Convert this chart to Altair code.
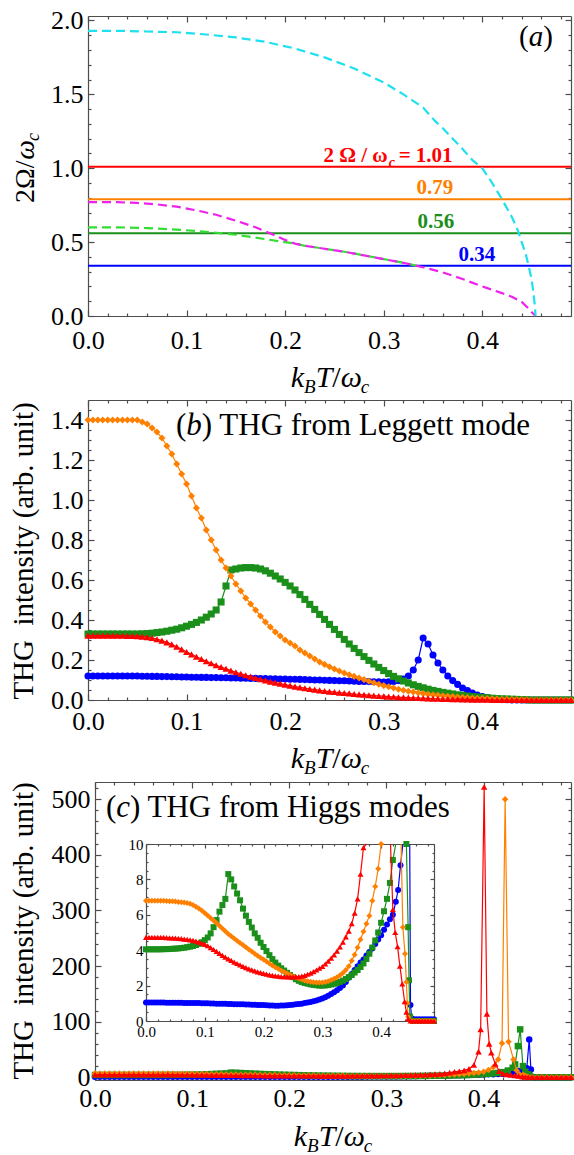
import altair as alt
import pandas as pd

W, H = 574, 1155
FONT = "Liberation Serif"
FRAME = "#4d4d4d"
BLUE, GREEN, ORANGE, RED = "#0000ff", "#1a8f1a", "#ff8000", "#ff0000"
CYAN, MAGENTA, LIME = "#1fe0ee", "#ee22ee", "#33dd33"

# ---------------- panel (a) data ----------------
A_LEVELS = [1.01, 0.79, 0.56, 0.34]
A_COLORS = [RED, ORANGE, GREEN, BLUE]
A_TEXT = ["0.79", "0.56", "0.34"]
A_TEXT_T = [0.352, 0.353, 0.3945]
A_TEXT_V = [0.79, 0.56, 0.34]
A_TEXT_C = [ORANGE, GREEN, BLUE]

CYAN_T = [0.0, 0.03, 0.06, 0.09, 0.12, 0.15, 0.18, 0.21, 0.24, 0.27,
          0.30, 0.32, 0.34, 0.352, 0.36, 0.37, 0.38, 0.39, 0.40, 0.41,
          0.42, 0.43, 0.436, 0.44, 0.444, 0.447, 0.45, 0.452, 0.4535, 0.454]
CYAN_V = [1.93, 1.93, 1.925, 1.92, 1.905, 1.885, 1.855, 1.81, 1.75, 1.675,
          1.58, 1.50, 1.41, 1.32, 1.27, 1.20, 1.13, 1.055, 1.00, 0.90,
          0.79, 0.67, 0.58, 0.50, 0.42, 0.34, 0.25, 0.15, 0.06, 0.0]
MAG_T = [0.0, 0.03, 0.05, 0.07, 0.09, 0.11, 0.13, 0.15, 0.17, 0.19,
         0.20, 0.21, 0.22, 0.24, 0.26, 0.28, 0.30, 0.32, 0.34, 0.36,
         0.38, 0.40, 0.42, 0.43, 0.44, 0.447, 0.451, 0.454]
MAG_V = [0.77, 0.77, 0.765, 0.755, 0.74, 0.715, 0.685, 0.645, 0.60, 0.545,
         0.515, 0.49, 0.475, 0.455, 0.435, 0.41, 0.385, 0.36, 0.33, 0.295,
         0.25, 0.20, 0.155, 0.13, 0.095, 0.05, 0.02, 0.0]
LIME_T = [0.0, 0.03, 0.06, 0.09, 0.12, 0.15, 0.18, 0.21, 0.22, 0.24, 0.26, 0.28, 0.30, 0.32, 0.34]
LIME_V = [0.60, 0.60, 0.595, 0.585, 0.57, 0.55, 0.52, 0.49, 0.475, 0.455, 0.435, 0.41, 0.385, 0.36, 0.33]

# ---------------- panel (b) data ----------------
T_B = [0.0, 0.005, 0.01, 0.015, 0.02, 0.025, 0.03, 0.035, 0.04, 0.045,
       0.05, 0.055, 0.06, 0.065, 0.07, 0.075, 0.08, 0.085, 0.09, 0.095,
       0.1, 0.105, 0.11, 0.115, 0.12, 0.125, 0.13, 0.135, 0.14, 0.145,
       0.15, 0.155, 0.16, 0.165, 0.17, 0.175, 0.18, 0.185, 0.19, 0.195,
       0.2, 0.205, 0.21, 0.215, 0.22, 0.225, 0.23, 0.235, 0.24, 0.245,
       0.25, 0.255, 0.26, 0.265, 0.27, 0.275, 0.28, 0.285, 0.29, 0.295,
       0.3, 0.305, 0.31, 0.315, 0.32, 0.325, 0.33, 0.335, 0.34, 0.345,
       0.35, 0.355, 0.36, 0.365, 0.37, 0.375, 0.38, 0.385, 0.39, 0.395,
       0.4, 0.405, 0.41, 0.415, 0.42, 0.425, 0.43, 0.435, 0.44, 0.445,
       0.45, 0.455, 0.46, 0.465, 0.47, 0.475, 0.48, 0.485, 0.49]
B_ORANGE = [1.40, 1.40, 1.40, 1.40, 1.40, 1.40, 1.40, 1.40, 1.40, 1.40,
            1.40, 1.39, 1.38, 1.36, 1.34, 1.31, 1.27, 1.23, 1.18, 1.13,
            1.08, 1.02, 0.96, 0.91, 0.85, 0.80, 0.75, 0.70, 0.66, 0.62,
            0.58, 0.545, 0.51, 0.48, 0.45, 0.42, 0.39, 0.365, 0.34, 0.32,
            0.30, 0.285, 0.27, 0.25, 0.235, 0.22, 0.205, 0.19, 0.178, 0.166,
            0.155, 0.145, 0.135, 0.126, 0.118, 0.11, 0.102, 0.094, 0.086, 0.079,
            0.072, 0.066, 0.06, 0.054, 0.049, 0.044, 0.04, 0.036, 0.032, 0.029,
            0.026, 0.024, 0.021, 0.019, 0.017, 0.015, 0.013, 0.012, 0.010, 0.009,
            0.008, 0.007, 0.006, 0.005, 0.004, 0.003, 0.003, 0.002, 0.002, 0.001,
            0, 0, 0, 0, 0, 0, 0, 0, 0]
B_GREEN = [0.33, 0.33, 0.33, 0.33, 0.33, 0.33, 0.33, 0.33, 0.33, 0.33,
           0.33, 0.331, 0.332, 0.334, 0.337, 0.34, 0.344, 0.349, 0.354, 0.361,
           0.369, 0.378, 0.388, 0.40, 0.414, 0.43, 0.45, 0.49, 0.57, 0.65,
           0.655, 0.66, 0.662, 0.662, 0.66, 0.655, 0.646, 0.634, 0.62, 0.605,
           0.588, 0.57, 0.55, 0.527, 0.503, 0.478, 0.453, 0.428, 0.403, 0.378,
           0.353, 0.328, 0.303, 0.28, 0.258, 0.237, 0.217, 0.198, 0.18, 0.163,
           0.147, 0.132, 0.118, 0.106, 0.095, 0.085, 0.076, 0.068, 0.061, 0.054,
           0.048, 0.043, 0.038, 0.034, 0.03, 0.026, 0.023, 0.02, 0.017, 0.015,
           0.013, 0.011, 0.009, 0.007, 0.006, 0.005, 0.004, 0.003, 0.002, 0.001,
           0, 0, 0, 0, 0, 0, 0, 0, 0]
B_BLUE = [0.12, 0.12, 0.12, 0.12, 0.12, 0.12, 0.12, 0.12, 0.12, 0.12,
          0.12, 0.119, 0.119, 0.118, 0.118, 0.117, 0.117, 0.116, 0.116, 0.115,
          0.115, 0.114, 0.114, 0.113, 0.113, 0.112, 0.112, 0.111, 0.111, 0.11,
          0.11, 0.109, 0.109, 0.108, 0.108, 0.107, 0.107, 0.106, 0.106, 0.105,
          0.105, 0.104, 0.104, 0.103, 0.102, 0.101, 0.1, 0.1, 0.099, 0.098,
          0.097, 0.096, 0.096, 0.095, 0.094, 0.093, 0.093, 0.092, 0.091, 0.091,
          0.09, 0.091, 0.093, 0.097, 0.105, 0.12, 0.15, 0.2, 0.31, 0.28,
          0.225, 0.185, 0.15, 0.12, 0.097, 0.078, 0.06, 0.047, 0.035, 0.025,
          0.017, 0.011, 0.007, 0.004, 0.002, 0.001, 0, 0, 0, 0,
          0, 0, 0, 0, 0, 0, 0, 0, 0]
B_RED = [0.322, 0.322, 0.322, 0.322, 0.322, 0.322, 0.321, 0.321, 0.320, 0.320,
         0.319, 0.317, 0.314, 0.31, 0.304, 0.297, 0.288, 0.278, 0.266, 0.253,
         0.24, 0.228, 0.216, 0.205, 0.194, 0.184, 0.174, 0.165, 0.156, 0.147,
         0.139, 0.131, 0.124, 0.117, 0.11, 0.104, 0.098, 0.092, 0.087, 0.082,
         0.077, 0.072, 0.067, 0.063, 0.059, 0.055, 0.052, 0.048, 0.045, 0.042,
         0.04, 0.037, 0.035, 0.033, 0.03, 0.028, 0.026, 0.024, 0.022, 0.02,
         0.019, 0.017, 0.016, 0.014, 0.013, 0.012, 0.011, 0.01, 0.009, 0.008,
         0.007, 0.006, 0.005, 0.005, 0.004, 0.004, 0.003, 0.003, 0.002, 0.002,
         0.002, 0.001, 0, 0, 0, 0, 0, 0, 0, 0,
         0, 0, 0, 0, 0, 0, 0, 0, 0]

# ---------------- panel (c) data ----------------
T_C = T_B[:74]
C_RED = [4.73, 4.73, 4.73, 4.73, 4.72, 4.72, 4.72, 4.71, 4.70, 4.69,
         4.68, 4.67, 4.65, 4.63, 4.61, 4.58, 4.55, 4.51, 4.46, 4.40,
         4.33, 4.25, 4.15, 4.04, 3.93, 3.82, 3.71, 3.61, 3.51, 3.42,
         3.33, 3.25, 3.17, 3.09, 3.02, 2.95, 2.89, 2.83, 2.78, 2.73,
         2.69, 2.65, 2.61, 2.58, 2.55, 2.53, 2.51, 2.50, 2.49, 2.49,
         2.49, 2.50, 2.51, 2.54, 2.58, 2.64, 2.71, 2.79, 2.88, 2.98,
         3.08, 3.22, 3.38, 3.55, 3.74, 3.95, 4.18, 4.45, 4.75, 5.08,
         5.5, 6.1, 6.9, 8.3]
C_RED_TT = [0.37, 0.375, 0.38, 0.385, 0.39, 0.3948, 0.397, 0.4006, 0.4034, 0.4058,
            0.408, 0.412, 0.416, 0.42, 0.424, 0.428, 0.432, 0.436, 0.44, 0.443,
            0.446, 0.45, 0.455, 0.46, 0.465, 0.47, 0.475, 0.48, 0.485, 0.49]
C_RED_TV = [9.8, 10.8, 12.3, 15, 22, 46, 86, 522, 114, 60,
            44, 24, 11, 6.3, 5.0, 4.2, 3.1, 2.1, 1.1, 0.5,
            0.12, 0, 0, 0, 0, 0, 0, 0, 0, 0]
C_ORANGE = [6.80, 6.80, 6.80, 6.80, 6.80, 6.79, 6.79, 6.78, 6.77, 6.76,
            6.75, 6.73, 6.71, 6.69, 6.66, 6.62, 6.55, 6.46, 6.36, 6.24,
            6.10, 5.96, 5.82, 5.68, 5.53, 5.38, 5.23, 5.07, 4.92, 4.79,
            4.66, 4.53, 4.41, 4.29, 4.17, 4.04, 3.92, 3.80, 3.69, 3.58,
            3.47, 3.36, 3.25, 3.14, 3.04, 2.95, 2.86, 2.77, 2.69, 2.61,
            2.53, 2.46, 2.40, 2.34, 2.29, 2.25, 2.22, 2.19, 2.18, 2.17,
            2.18, 2.21, 2.25, 2.31, 2.38, 2.47, 2.58, 2.71, 2.88, 3.1,
            3.4, 3.75, 4.15, 4.6]
C_ORANGE_TT = [0.37, 0.375, 0.38, 0.385, 0.39, 0.395, 0.4, 0.405, 0.41, 0.415,
               0.419, 0.4222, 0.4257, 0.4308, 0.434, 0.437, 0.4407, 0.443, 0.4446, 0.446,
               0.45, 0.455, 0.46, 0.465, 0.47, 0.475, 0.48, 0.485, 0.49]
C_ORANGE_TV = [5.05, 5.5, 5.95, 6.8, 7.6, 8.6, 10.0, 13, 18, 32,
               61, 500, 64, 32, 12, 5.3, 3.8, 2.2, 1.0, 0.24,
               0, 0, 0, 0, 0, 0, 0, 0, 0]
C_GREEN = [4.05, 4.05, 4.05, 4.05, 4.05, 4.05, 4.06, 4.06, 4.07, 4.08,
           4.09, 4.10, 4.12, 4.14, 4.17, 4.20, 4.24, 4.29, 4.36, 4.45,
           4.57, 4.72, 4.95, 5.3, 5.7, 6.18, 6.55, 6.9, 8.3, 8.0,
           7.6, 7.2, 6.82, 6.35, 5.95, 5.6, 5.28, 4.95, 4.7, 4.42,
           4.18, 3.95, 3.72, 3.5, 3.3, 3.13, 2.98, 2.85, 2.72, 2.6,
           2.48, 2.36, 2.27, 2.2, 2.15, 2.11, 2.07, 2.04, 2.02, 2.0,
           2.0, 2.01, 2.03, 2.06, 2.1, 2.15, 2.21, 2.28, 2.37, 2.48,
           2.6, 2.74, 2.88, 3.05]
C_GREEN_TT = [0.37, 0.375, 0.38, 0.385, 0.39, 0.395, 0.4, 0.405, 0.41, 0.415,
              0.42, 0.425, 0.43, 0.4325, 0.4353, 0.4377, 0.4405, 0.443, 0.446, 0.4475,
              0.449, 0.455, 0.46, 0.465, 0.47, 0.475, 0.48, 0.485, 0.49]
C_GREEN_TV = [3.25, 3.5, 3.8, 4.15, 4.55, 5.0, 5.55, 6.2, 6.9, 7.8,
              9.1, 12, 17, 23, 56, 86, 20, 10, 5.3, 2.3,
              0.25, 0, 0, 0, 0, 0, 0, 0, 0]
C_BLUE = [1.04, 1.04, 1.04, 1.04, 1.04, 1.04, 1.04, 1.03, 1.03, 1.03,
          1.03, 1.03, 1.03, 1.02, 1.02, 1.02, 1.01, 1.01, 1.01, 1.0,
          1.0, 1.0, 0.99, 0.99, 0.98, 0.98, 0.97, 0.97, 0.96, 0.96,
          0.95, 0.95, 0.94, 0.94, 0.93, 0.93, 0.92, 0.92, 0.91, 0.90,
          0.90, 0.89, 0.88, 0.87, 0.86, 0.86, 0.87, 0.88, 0.89, 0.90,
          0.92, 0.94, 0.96, 0.98, 1.01, 1.04, 1.08, 1.12, 1.16, 1.21,
          1.27, 1.34, 1.42, 1.52, 1.63, 1.74, 1.86, 2.0, 2.2, 2.45,
          2.65, 2.88, 3.1, 3.3]
C_BLUE_TT = [0.37, 0.375, 0.38, 0.385, 0.39, 0.395, 0.4, 0.405, 0.41, 0.415,
             0.42, 0.425, 0.429, 0.433, 0.437, 0.441, 0.4445, 0.447, 0.4487, 0.45,
             0.452, 0.455, 0.46, 0.465, 0.47, 0.475, 0.48, 0.485, 0.49]
C_BLUE_TV = [3.48, 3.7, 3.9, 4.1, 4.35, 4.6, 4.85, 5.15, 5.45, 5.75,
             6.0, 6.74, 7.4, 8.8, 11, 15, 16, 68, 14, 0.9,
             0.15, 0.1, 0.1, 0.1, 0.1, 0.1, 0.1, 0.1, 0.1]

# tick positions
X_MAJ = [0.0, 0.1, 0.2, 0.3, 0.4]
X_MIN = [0.02, 0.04, 0.06, 0.08, 0.12, 0.14, 0.16, 0.18, 0.22, 0.24, 0.26, 0.28,
         0.32, 0.34, 0.36, 0.38, 0.42, 0.44, 0.46, 0.48]
A_Y_MAJ = [0.0, 0.5, 1.0, 1.5, 2.0]
A_Y_MIN = [0.1, 0.2, 0.3, 0.4, 0.6, 0.7, 0.8, 0.9, 1.1, 1.2, 1.3, 1.4, 1.6, 1.7, 1.8, 1.9]
B_Y_MAJ = [0.0, 0.2, 0.4, 0.6, 0.8, 1.0, 1.2, 1.4]
B_Y_MIN = [0.05, 0.1, 0.15, 0.25, 0.3, 0.35, 0.45, 0.5, 0.55, 0.65, 0.7, 0.75,
           0.85, 0.9, 0.95, 1.05, 1.1, 1.15, 1.25, 1.3, 1.35, 1.45]
C_Y_MAJ = [0, 100, 200, 300, 400, 500]
C_Y_MIN = [20, 40, 60, 80, 120, 140, 160, 180, 220, 240, 260, 280, 320, 340, 360, 380,
           420, 440, 460, 480, 520]
I_Y_MAJ = [0, 2, 4, 6, 8, 10]
I_Y_MIN = [0.5, 1, 1.5, 2.5, 3, 3.5, 4.5, 5, 5.5, 6.5, 7, 7.5, 8.5, 9, 9.5]

ONE = pd.DataFrame({"a": [0]})


def sc(dom, rng, clamp=False):
    return alt.Scale(domain=dom, range=rng, nice=False, zero=False, clamp=clamp)


def frame_layers(xdom, ydom, box, ymaj, ymin, yfmt, fsize, xpad, ypad, big, small, clamp=False):
    xl, xr, yt, yb = box
    xs = sc(xdom, [xl, xr])
    ys = sc(ydom, [yb, yt], clamp)
    df = pd.DataFrame({"x": [xdom[0]], "y": [ydom[0]]})
    common = dict(grid=False, title=None, domainColor=FRAME, tickColor=FRAME,
                  domainWidth=1.2, tickWidth=1.2, labels=False)

    def lay(ax, ay):
        return alt.Chart(df).mark_point(opacity=0).encode(
            x=alt.X("x:Q", scale=xs, axis=ax), y=alt.Y("y:Q", scale=ys, axis=ay))

    labstyle = dict(labels=True, ticks=True, tickSize=0, domain=False, grid=False, title=None,
                    labelFont=FONT, labelFontSize=fsize, labelColor="black",
                    labelFlush=False, labelOverlap=False)
    lab = lay(alt.Axis(orient="bottom", offset=yb - H, values=X_MAJ, format=".1f",
                       labelPadding=xpad, **labstyle),
              alt.Axis(orient="left", offset=-xl, values=ymaj, format=yfmt,
                       labelPadding=ypad, **labstyle))
    maj_lo = lay(alt.Axis(orient="top", offset=-yb, values=X_MAJ, tickSize=big, domain=True, **common),
                 alt.Axis(orient="right", offset=xl - W, values=ymaj, tickSize=big, domain=True, **common))
    min_lo = lay(alt.Axis(orient="top", offset=-yb, values=X_MIN, tickSize=small, domain=False, **common),
                 alt.Axis(orient="right", offset=xl - W, values=ymin, tickSize=small, domain=False, **common))
    maj_hi = lay(alt.Axis(orient="bottom", offset=yt - H, values=X_MAJ, tickSize=big, domain=True, **common),
                 alt.Axis(orient="left", offset=-xr, values=ymaj, tickSize=big, domain=True, **common))
    min_hi = lay(alt.Axis(orient="bottom", offset=yt - H, values=X_MIN, tickSize=small, domain=False, **common),
                 alt.Axis(orient="left", offset=-xr, values=ymin, tickSize=small, domain=False, **common))
    return [lab, maj_lo, min_lo, maj_hi, min_hi], xs, ys


def series(ts, vs, xs, ys, color, shape, size, sw=1.2):
    df = pd.DataFrame({"T": ts, "V": vs})
    enc = dict(x=alt.X("T:Q", scale=xs, axis=None), y=alt.Y("V:Q", scale=ys, axis=None))
    line = alt.Chart(df).mark_line(color=color, strokeWidth=sw).encode(**enc)
    pts = alt.Chart(df).mark_point(shape=shape, filled=True, color=color, size=size,
                                   opacity=1, strokeWidth=0).encode(**enc)
    return [line, pts]


def clipped_series(ts, vs, xs, ys, color, shape, size, top, sw=1.2):
    rows, seg, i, n = [], 0, 0, len(vs)
    while i < n:
        if vs[i] <= top:
            j = i
            while j + 1 < n and vs[j + 1] <= top:
                j += 1
            for k in range(max(i - 1, 0), min(j + 1, n - 1) + 1):
                rows.append((ts[k], vs[k], seg))
            seg += 1
            i = j + 1
        else:
            i += 1
    ldf = pd.DataFrame(rows, columns=["T", "V", "seg"])
    pdf = pd.DataFrame({"T": ts, "V": vs})
    pdf = pdf[pdf["V"] <= top]
    enc = dict(x=alt.X("T:Q", scale=xs, axis=None), y=alt.Y("V:Q", scale=ys, axis=None))
    line = alt.Chart(ldf).mark_line(color=color, strokeWidth=sw).encode(detail="seg:N", **enc)
    pts = alt.Chart(pdf).mark_point(shape=shape, filled=True, color=color, size=size,
                                    opacity=1, strokeWidth=0).encode(**enc)
    return [line, pts]


def txt(s, x, y, size, style="normal", weight="normal", color="black", align="left", angle=0):
    return alt.Chart(ONE).mark_text(text=s, font=FONT, fontSize=size, fontStyle=style,
                                    fontWeight=weight, color=color, align=align,
                                    baseline="alphabetic", angle=angle).encode(
        x=alt.value(x), y=alt.value(y))


# ---------------- panel (a) ----------------
a_axes, xa, ya = frame_layers([0, 0.49], [0, 2.03], (88, 571, 16, 316), A_Y_MAJ, A_Y_MIN, ".1f",
                              26, 11, 5, 6, 3)
lev_df = pd.DataFrame({"v": A_LEVELS, "c": A_COLORS, "x0": [0.0] * 4, "x1": [0.49] * 4})
rules = alt.Chart(lev_df).mark_rule(strokeWidth=2.2).encode(
    x=alt.X("x0:Q", scale=xa, axis=None), x2="x1:Q",
    y=alt.Y("v:Q", scale=ya, axis=None), color=alt.Color("c:N", scale=None))


def dashed(ts, vs, color):
    df = pd.DataFrame({"T": ts, "V": vs})
    return alt.Chart(df).mark_line(color=color, strokeWidth=2.2, strokeDash=[9, 5]).encode(
        x=alt.X("T:Q", scale=xa, axis=None), y=alt.Y("V:Q", scale=ya, axis=None))


lab_df = pd.DataFrame({"T": A_TEXT_T, "V": A_TEXT_V, "s": A_TEXT, "c": A_TEXT_C})
level_labels = alt.Chart(lab_df).mark_text(font=FONT, fontSize=21, fontWeight="bold",
                                          align="center", baseline="alphabetic", dy=-5).encode(
    x=alt.X("T:Q", scale=xa, axis=None), y=alt.Y("V:Q", scale=ya, axis=None),
    text="s:N", color=alt.Color("c:N", scale=None))
red_df = pd.DataFrame({"T": [0.304], "V": [1.01]})


def red_piece(s, align, dx, dy, size, style="normal"):
    return alt.Chart(red_df).mark_text(text=s, font=FONT, fontSize=size, fontWeight="bold",
                                       fontStyle=style, color=RED, align=align,
                                       baseline="alphabetic", dx=dx, dy=dy).encode(
        x=alt.X("T:Q", scale=xa, axis=None), y=alt.Y("V:Q", scale=ya, axis=None))


red_label = [red_piece("2 \u03a9 / \u03c9", "right", 0, -5, 21),
             red_piece("c", "left", 1, 0, 14, "italic"),
             red_piece("= 1.01", "left", 11, -5, 21)]

panel_a = alt.layer(*a_axes, rules, dashed(LIME_T, LIME_V, LIME), dashed(MAG_T, MAG_V, MAGENTA),
                    dashed(CYAN_T, CYAN_V, CYAN), level_labels, *red_label
                    ).resolve_axis(x="independent", y="independent")

# ---------------- panel (b) ----------------
b_axes, xb, yb_ = frame_layers([0, 0.49], [0, 1.5], (88, 571, 400, 700), B_Y_MAJ, B_Y_MIN, ".1f",
                               26, 8, 5, 6, 3)
b_layers = []
for vals, col, shp in [(B_BLUE, BLUE, "circle"), (B_GREEN, GREEN, "square"),
                       (B_ORANGE, ORANGE, "diamond"), (B_RED, RED, "triangle-up")]:
    b_layers += series(T_B, vals, xb, yb_, col, shp, 50)
panel_b = alt.layer(*b_axes, *b_layers).resolve_axis(x="independent", y="independent")

# ---------------- panel (c) ----------------
c_axes, xc, yc = frame_layers([0, 0.49], [-5, 531], (95, 571, 782, 1080), C_Y_MAJ, C_Y_MIN, "d",
                              26, 5, 5, 6, 3)
C_SERIES = [(C_BLUE, C_BLUE_TT, C_BLUE_TV, BLUE, "circle"),
            (C_GREEN, C_GREEN_TT, C_GREEN_TV, GREEN, "square"),
            (C_ORANGE, C_ORANGE_TT, C_ORANGE_TV, ORANGE, "diamond"),
            (C_RED, C_RED_TT, C_RED_TV, RED, "triangle-up")]
c_layers = []
for base, tt, tv, col, shp in C_SERIES:
    c_layers += series(T_C + tt, base + tv, xc, yc, col, shp, 42)
panel_c = alt.layer(*c_axes, *c_layers).resolve_axis(x="independent", y="independent")

# ---------------- inset ----------------
i_axes, xi, yi = frame_layers([0, 0.49], [0, 10], (146, 434, 844, 1021), I_Y_MAJ, I_Y_MIN, "d",
                              15, 3, 3, 4, 2, clamp=True)
i_layers = []
for base, tt, tv, col, shp in C_SERIES:
    i_layers += clipped_series(T_C + tt, base + tv, xi, yi, col, shp, 36, 10)
panel_i = alt.layer(*i_axes, *i_layers).resolve_axis(x="independent", y="independent")

# ---------------- titles / labels ----------------
texts = []
# (a)
texts += [txt("(", 519, 46, 29), txt("a", 528.7, 46, 29, style="italic"), txt(")", 543.2, 46, 29)]
# (b) and (c) titles
texts += [txt("(", 176, 435, 31), txt("b", 186.3, 435, 31, style="italic"),
          txt(") THG from Leggett mode", 201.8, 435, 31)]
texts += [txt("(", 106, 817, 31), txt("c", 116.3, 817, 31, style="italic"),
          txt(") THG from Higgs modes", 130, 817, 31)]


def xtitle(cx, base):
    S, s = 30, 19
    pieces = [("k", S, "italic", 0, 0.444 * S), ("B", s, "italic", 6, 0.611 * s),
              ("T", S, "italic", 0, 0.556 * S), ("/", S, "normal", 0, 0.278 * S),
              ("\u03c9", S, "italic", 0, 0.67 * S), ("c", s, "italic", 6, 0.444 * s)]
    x = cx - sum(p[4] for p in pieces) / 2
    out = []
    for t, sz, st, dy, w in pieces:
        out.append(txt(t, x, base + dy, sz, style=st))
        x += w
    return out


texts += xtitle(330, 387) + xtitle(330, 768) + xtitle(333, 1146)

# y titles
S = 28
texts += [txt("2\u03a9/", 34, 203, S, angle=270),
          txt("\u03c9", 34, 203 - 1.548 * S, S, style="italic", angle=270),
          txt("c", 39, 203 - (1.548 + 0.67) * S, 18, style="italic", angle=270)]
texts += [txt("THG\u00a0 intensity (arb. unit)", 33, 551, 29, align="center", angle=270),
          txt("THG\u00a0 intensity (arb. unit)", 33, 931, 29, align="center", angle=270)]

chart = alt.layer(panel_a, panel_b, panel_c, panel_i, *texts).resolve_scale(
    x="independent", y="independent").resolve_axis(x="independent", y="independent").properties(
    width=W, height=H, autosize=alt.AutoSizeParams(type="none"), padding=0, background="white"
).configure_view(stroke=None).configure_axis(grid=False)

chart.save("out.html", embed_options={"renderer": "svg", "actions": False})
